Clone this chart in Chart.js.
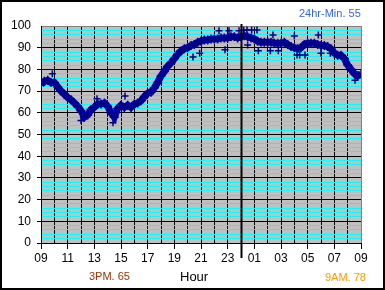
<!DOCTYPE html>
<html>
<head>
<meta charset="utf-8">
<script src="https://cdn.jsdelivr.net/npm/chart.js@4/dist/chart.umd.min.js"></script>
<style>
    body { margin: 0; background: #fff; font-family: Arial, "Liberation Sans", sans-serif; }
    #box { position: relative; width: 381px; height: 286px; border: 2px solid #000; }
    #box canvas { position: absolute; left: 0; top: 0; }
    .note { position: absolute; white-space: nowrap; }
</style>
</head>
<body>
<div id="box">
    <canvas id="myChart" width="381" height="286"></canvas>
    <div class="note" style="left:297px;top:6px;font-size:11px;line-height:11px;color:#3366e6;">24hr-Min. 55</div>
    <div class="note" style="left:178px;top:268px;font-size:13px;line-height:13px;color:#000;">Hour</div>
    <div class="note" style="left:87px;top:269px;font-size:11px;line-height:11px;color:#993300;">3PM. 65</div>
    <div class="note" style="left:323px;top:270px;font-size:11px;line-height:11px;color:#ff9900;">9AM. 78</div>
</div>
<script>
// readings every 15 minutes, starting 09:00
const startHour = 9;
const stepHours = 0.25;
const readings = [
    73, 74.5, 75, 74, 74, 72, 70, 68.5, 67, 66, 64.5, 63, 61, 58, 59, 61.5,
    62.5, 64, 64, 64.5, 63, 60, 58, 62, 63.5, 62.5, 63.5, 62.5, 64, 64.5, 65.5, 67.5,
    69, 69.5, 71.5, 74, 77, 79, 81.5, 83, 85, 87, 88.5, 89.5, 90, 91, 91.5, 92.5,
    93, 93.5, 93.5, 94, 94, 94, 94.5, 94.5, 94.5, 95, 95, 94.5, 95, 95.5, 95, 94.5,
    94, 93, 92.5, 92.5, 92.5, 92.5, 92, 92, 92, 92.5, 91.5, 90.5, 90, 89.5, 90, 91.5,
    92, 92, 92, 91.5, 91, 91, 90.5, 89.5, 87.5, 86.5, 86.5, 85, 82, 80, 78, 77, 78
];
// stray readings off the main band: [hours after 09:00, value]
const strays = [
    [0.85, 78], [3.0, 56.5], [4.2, 66.5], [5.4, 55.4], [6.3, 67.7],
    [11.4, 85.7], [11.9, 87.5], [13.35, 97.8], [13.8, 89], [14.1, 97.8],
    [14.85, 97.8], [15.2, 98], [15.45, 98.2], [15.5, 91.2], [15.8, 98.2],
    [16.2, 98.2], [16.3, 88.6], [17.2, 88.6], [17.4, 95.8], [17.8, 88.6],
    [19.0, 95.4], [19.2, 86.6], [19.4, 86.6], [19.8, 86.6], [20.8, 95.8],
    [21.0, 87.4], [21.7, 87.4], [23.55, 75]
];
const midnight = 15;

const plotBack = {
    id: 'plotBack',
    beforeDraw(chart) {
        const a = chart.chartArea, c = chart.ctx;
        c.save();
        c.fillStyle = '#c0c0c0';
        c.fillRect(a.left, a.top, a.right - a.left, a.bottom - a.top);
        c.restore();
    }
};
const dayLine = {
    id: 'dayLine',
    afterDatasetsDraw(chart) {
        const a = chart.chartArea, c = chart.ctx;
        const x = Math.round(chart.scales.x.getPixelForValue(midnight)) + 0.5;
        c.save();
        c.strokeStyle = '#000';
        c.lineWidth = 2;
        c.beginPath();
        c.moveTo(x, a.top - 2);
        c.lineTo(x, a.bottom + 15);
        c.stroke();
        c.restore();
    }
};

new Chart(document.getElementById('myChart'), {
    type: 'line',
    data: {
        datasets: [{
            data: readings.map((v, i) => ({ x: i * stepHours, y: v })),
            borderColor: '#0000b8',
            borderWidth: 7,
            pointStyle: 'cross',
            pointRadius: 4.5,
            pointBorderWidth: 1.5,
            pointBorderColor: '#000080',
            tension: 0
        }, {
            data: strays.map(p => ({ x: p[0], y: p[1] })),
            showLine: false,
            pointStyle: 'cross',
            pointRadius: 3.5,
            pointBorderWidth: 1.5,
            pointBorderColor: '#000080'
        }]
    },
    options: {
        responsive: false,
        animation: false,
        layout: { padding: { top: 24, right: 22, left: 0, bottom: 0 } },
        plugins: { legend: { display: false }, tooltip: { enabled: false } },
        scales: {
            x: {
                type: 'linear', min: 0, max: 24,
                afterFit(s) { s.height = 45; },
                border: { color: '#000', width: 1 },
                grid: {
                    color: c => c.tick && c.tick.value === 24 ? '#808080' : '#000',
                    tickColor: c => c.tick && c.tick.value % 2 === 0 ? '#000' : 'rgba(0,0,0,0)',
                    tickLength: 6
                },
                ticks: {
                    stepSize: 1, autoSkip: false, maxRotation: 0, padding: 2,
                    color: '#000', font: { family: 'Arial', size: 12 },
                    callback: v => v % 2 === 0 ? String((startHour + v) % 24).padStart(2, '0') : ''
                }
            },
            y: {
                min: 0, max: 100,
                afterFit(s) { s.width = 39; },
                border: { color: '#000', width: 1 },
                grid: {
                    color: c => c.tick.value === 100 ? '#808080' : (c.tick.value % 10 === 0 ? '#000' : '#00ffff'),
                    tickColor: c => c.tick.value % 10 === 0 && c.tick.value < 100 ? '#000' : 'rgba(0,0,0,0)',
                    tickLength: 4
                },
                ticks: {
                    stepSize: 2, autoSkip: false, padding: 6,
                    color: '#000', font: { family: 'Arial', size: 12 },
                    callback: v => v % 10 === 0 ? v : ''
                }
            }
        }
    },
    plugins: [plotBack, dayLine]
});
</script>
</body>
</html>
